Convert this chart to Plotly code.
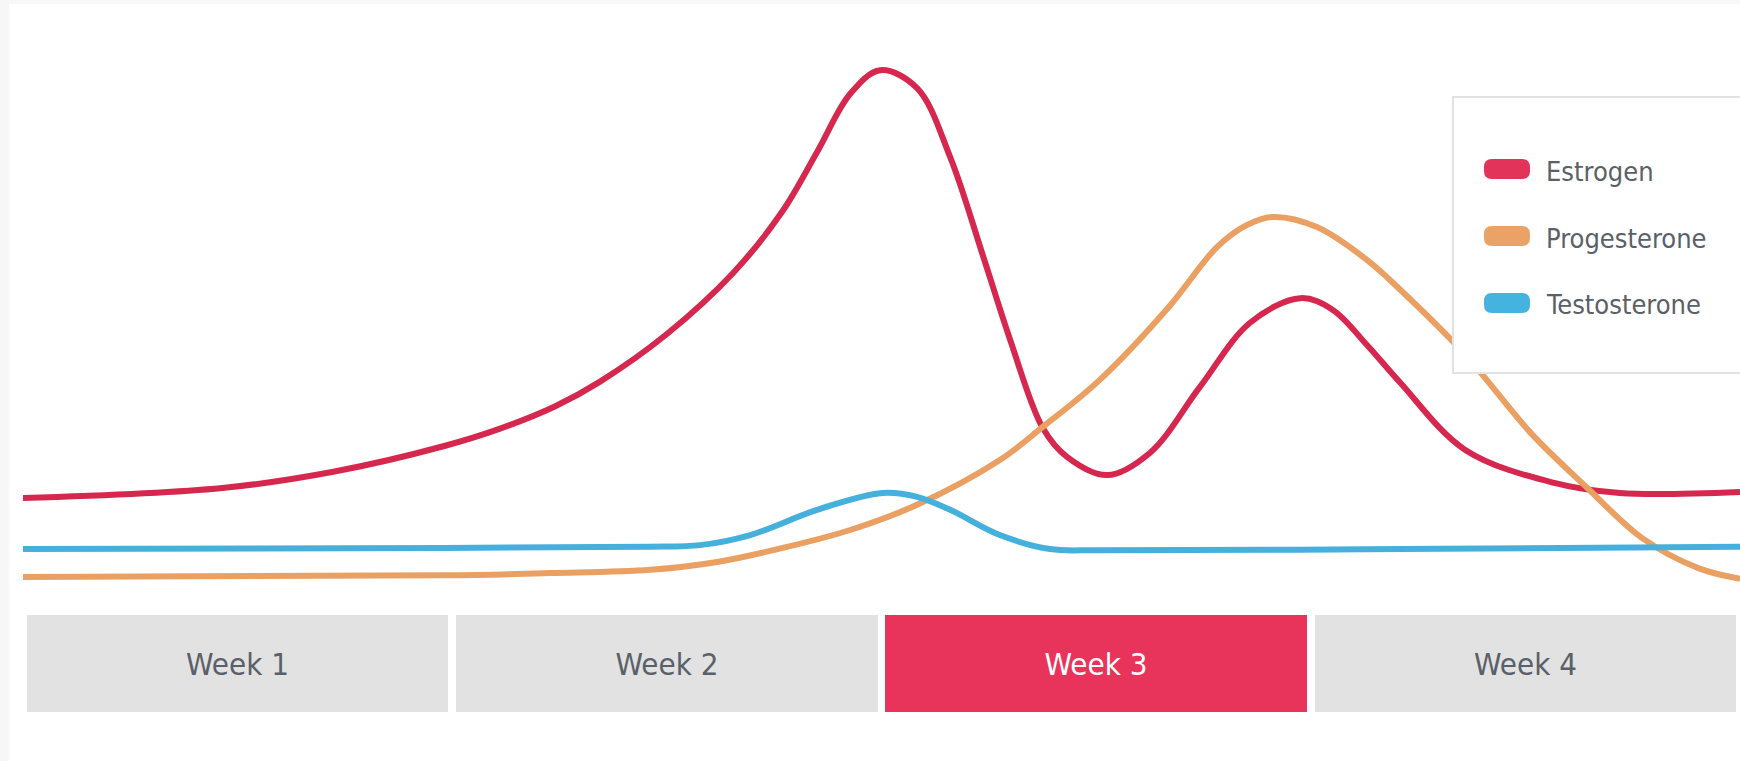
import plotly.graph_objects as go

# ---- data (x = day of cycle, y = relative hormone level) ----
estrogen_days = [0, 3.25, 5.06, 6.87, 7.78, 8.68, 9.41, 10.50, 11.58, 12.39, 12.95, 13.49, 13.98, 14.58,
                 15.12, 15.66, 16.10, 16.63, 17.03, 17.68, 18.38, 19.19, 20.01, 20.83, 21.36,
                 21.92, 22.46, 23.52, 24.97, 26.04, 28]
estrogen = [18.2, 20.0, 22.9, 27.5, 30.6, 34.6, 39.0, 47.5, 58.4, 69.5, 80.0, 90.4, 94.6, 91.4,
            79.1, 61.3, 46.4, 30.7, 25.5, 22.3, 26.3, 38.0, 49.5, 53.9, 51.8,
            45.5, 38.8, 26.8, 20.9, 19.1, 19.3]

progesterone_days = [0, 6.87, 8.59, 10.23, 11.32, 12.39, 13.49, 14.58, 15.93, 16.63, 17.56, 18.66,
                     19.47, 19.93, 20.38, 21.10, 21.92, 22.46, 23.52, 24.59, 25.51, 26.40, 27.32, 28]
progesterone = [4.1, 4.4, 4.8, 5.4, 6.8, 9.3, 12.5, 17.0, 25.0, 30.9, 39.3, 52.0,
                63.0, 66.8, 68.4, 66.6, 60.7, 55.4, 43.8, 29.8, 20.0, 11.1, 5.7, 3.8]

testosterone_days = [0, 6.87, 10.2, 11.04, 11.86, 12.95, 14.02, 14.58, 15.12, 15.93, 16.75, 17.56, 22.46, 28]
testosterone = [9.1, 9.3, 9.5, 9.8, 11.6, 16.1, 19.1, 18.4, 16.1, 11.6, 9.1, 8.9, 9.1, 9.5]

weeks = ["Week 1", "Week 2", "Week 3", "Week 4"]
week_centers = [3.5, 10.5, 17.5, 24.5]
highlight_week = "Week 3"

series_names = ["Estrogen", "Progesterone", "Testosterone"]
series_colors = ["#d6284f", "#e9a062", "#46b0dc"]
swatch_colors = ["#e2335a", "#eaa266", "#44b3e0"]

GRAY_TEXT = "#5a6068"
FONT = "Liberation Sans Narrow, DejaVu Sans Condensed, Arial Narrow, sans-serif"

fig = go.Figure()

for name, xs, ys, col in zip(series_names,
                             [estrogen_days, progesterone_days, testosterone_days],
                             [estrogen, progesterone, testosterone],
                             series_colors):
    fig.add_trace(go.Scatter(x=xs, y=ys, mode="lines", name=name,
                             line=dict(color=col, width=6, shape="spline", smoothing=1.0),
                             showlegend=False, hoverinfo="skip", xaxis="x", yaxis="y"))

bar_colors = ["#e8345a" if w == highlight_week else "#e2e2e2" for w in weeks]
text_colors = ["#ffffff" if w == highlight_week else GRAY_TEXT for w in weeks]
fig.add_trace(go.Bar(x=week_centers, y=[1] * 4, width=6.87, text=weeks,
                     marker=dict(color=bar_colors, line=dict(width=0)),
                     textposition="inside", insidetextanchor="middle", constraintext="none",
                     textfont=dict(family=FONT, size=31, color=text_colors),
                     showlegend=False, hoverinfo="skip", xaxis="x", yaxis="y2"))

shapes = []
# page border strips
shapes.append(dict(type="rect", xref="paper", yref="paper", x0=0, x1=9 / 1740, y0=0, y1=1,
                   fillcolor="#f7f7f7", line=dict(width=0), layer="below"))
shapes.append(dict(type="rect", xref="paper", yref="paper", x0=0, x1=1, y0=1 - 4 / 761, y1=1,
                   fillcolor="#f7f7f7", line=dict(width=0), layer="below"))
# legend box
shapes.append(dict(type="rect", xref="paper", yref="paper",
                   x0=1453 / 1740, x1=1.02, y0=1 - 373 / 761, y1=1 - 97 / 761,
                   fillcolor="white", line=dict(color="#e2e2e2", width=2), layer="above"))

annotations = []
swatch_y = [169, 236, 303]
for name, col, py in zip(series_names, swatch_colors, swatch_y):
    x0, x1 = 1484 / 1740, 1530 / 1740
    y0, y1 = 1 - (py + 10) / 761, 1 - (py - 10) / 761
    rx, ry = 8 / 1740, 8 / 761
    path = (f"M {x0 + rx} {y0} L {x1 - rx} {y0} Q {x1} {y0} {x1} {y0 + ry} "
            f"L {x1} {y1 - ry} Q {x1} {y1} {x1 - rx} {y1} L {x0 + rx} {y1} "
            f"Q {x0} {y1} {x0} {y1 - ry} L {x0} {y0 + ry} Q {x0} {y0} {x0 + rx} {y0} Z")
    shapes.append(dict(type="path", xref="paper", yref="paper", path=path,
                       fillcolor=col, line=dict(width=0), layer="above"))
    annotations.append(dict(xref="paper", yref="paper", x=1544 / 1740, y=1 - (py + 2) / 761,
                            xanchor="left", yanchor="middle", text=name, showarrow=False,
                            font=dict(family=FONT, size=27, color=GRAY_TEXT)))

fig.update_layout(
    width=1740, height=761,
    margin=dict(l=0, r=0, t=0, b=0),
    paper_bgcolor="white", plot_bgcolor="rgba(0,0,0,0)",
    xaxis=dict(domain=[23 / 1740, 1], range=[0, 28], visible=False, fixedrange=True),
    yaxis=dict(domain=[0, 1], range=[-28.75, 107.14], visible=False, fixedrange=True),
    yaxis2=dict(domain=[1 - 712 / 761, 1 - 615 / 761], range=[0, 1], visible=False,
                fixedrange=True, anchor="x"),
    shapes=shapes, annotations=annotations,
    bargap=0,
)

fig.write_html("out.html", config={"displayModeBar": False})
